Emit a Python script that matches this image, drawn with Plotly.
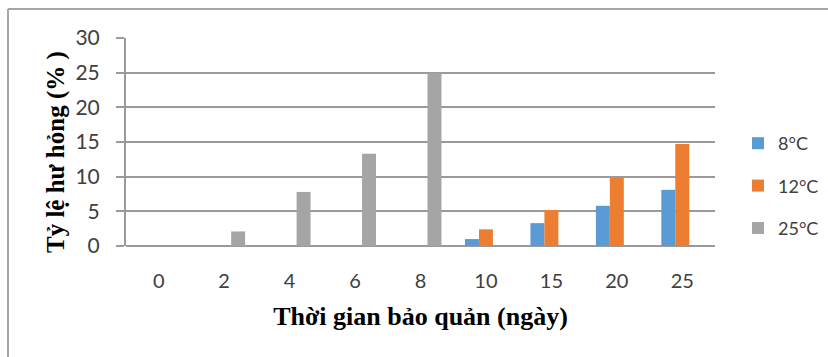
import plotly.graph_objects as go

# Storage time (days) and spoilage rate (%) by storage temperature
days = ["0", "2", "4", "6", "8", "10", "15", "20", "25"]
rate_8c = [None, None, None, None, None, 1.0, 3.3, 5.8, 8.1]
rate_12c = [None, None, None, None, None, 2.4, 5.2, 9.8, 14.7]
rate_25c = [0, 2.1, 7.8, 13.3, 25.0, None, None, None, None]
series_names = ["8°C", "12°C", "25°C"]
series_colors = ["#5B9BD5", "#ED7D31", "#A5A5A5"]
y_ticks = [0, 5, 10, 15, 20, 25, 30]

W, H = 828, 357
ML, MR, MT, MB = 126, 113, 38, 111
pw, ph = W - ML - MR, H - MT - MB

fig = go.Figure()
for i, (name, vals, col) in enumerate(zip(series_names, [rate_8c, rate_12c, rate_25c], series_colors)):
    fig.add_trace(go.Bar(
        x=days, y=vals, name=name, legendgroup=f"g{i}",
        marker=dict(color=col, line=dict(width=0)),
    ))

def px_x(x):
    return (x - ML) / pw

def px_y(y):
    return (H - MB - y) / ph

gray = "#9a9a9a"
title_font = dict(family="Liberation Serif", size=26, color="black", weight="bold")
fig.update_layout(
    width=W, height=H,
    margin=dict(l=ML, r=MR, t=MT, b=MB, autoexpand=False),
    paper_bgcolor="white", plot_bgcolor="white",
    barmode="group", bargap=0.36, bargroupgap=0,
    font=dict(family="Lato", color="#404040"),
    legend=dict(
        x=px_x(738), y=px_y(125), xanchor="left", yanchor="top",
        font=dict(size=18, family="Lato", color="#404040"),
        tracegroupgap=16, bgcolor="rgba(0,0,0,0)",
    ),
    xaxis=dict(
        type="category", showgrid=False, ticks="", showline=False,
        tickfont=dict(size=20, family="Lato", color="#404040"),
        ticklabelstandoff=21,
        title=dict(text="Thời gian bảo quản (ngày)", font=title_font, standoff=15),
    ),
    yaxis=dict(
        range=[0, 30], tickvals=y_ticks, showgrid=True, gridcolor=gray, gridwidth=2,
        zeroline=True, zerolinecolor=gray, zerolinewidth=2,
        showline=True, linecolor=gray, linewidth=2,
        ticks="outside", ticklen=8, tickcolor=gray, tickwidth=2,
        tickfont=dict(size=21, family="Lato", color="#404040"),
        ticklabelstandoff=12,
    ),
    annotations=[
        dict(text="Tỷ lệ hư hỏng (% )", textangle=-90,
             font=dict(title_font, size=25),
             xref="paper", yref="paper", x=px_x(56), y=px_y(152),
             xanchor="center", yanchor="middle", showarrow=False),
    ],
    shapes=[
        dict(type="line", xref="paper", yref="paper",
             x0=px_x(8), x1=px_x(W + 5), y0=px_y(9), y1=px_y(9),
             line=dict(color="#a6a6a6", width=2)),
        dict(type="line", xref="paper", yref="paper",
             x0=px_x(8), x1=px_x(8), y0=px_y(9), y1=px_y(H + 5),
             line=dict(color="#a6a6a6", width=2)),
    ],
)

fig.write_html("out.html")
